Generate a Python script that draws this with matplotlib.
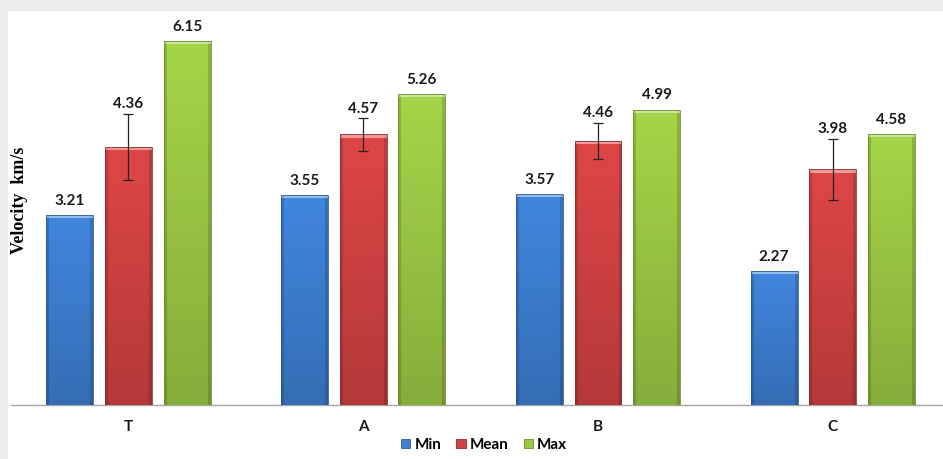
import numpy as np
import matplotlib
matplotlib.use("Agg")
import matplotlib.pyplot as plt
from matplotlib.patches import Rectangle, Patch
from matplotlib.colors import to_rgb

# Data
categories = ["T", "A", "B", "C"]
series = ["Min", "Mean", "Max"]
min_vals = [3.21, 3.55, 3.57, 2.27]
mean_vals = [4.36, 4.57, 4.46, 3.98]
max_vals = [6.15, 5.26, 4.99, 4.58]
mean_err = [0.56, 0.28, 0.31, 0.52]

colors = {"Min": "#3d7fd2", "Mean": "#d24242", "Max": "#9cc944"}

fig = plt.figure(figsize=(9.43, 4.59), dpi=100)
fig.patch.set_facecolor("#ececec")
# white chart panel
fig.add_artist(Rectangle((8 / 943, 0), 1, (459 - 11) / 459, transform=fig.transFigure,
                         facecolor="white", edgecolor="none", zorder=0))

ax = fig.add_axes([11 / 943, 54 / 459, 932 / 943, 394 / 459])
ax.set_facecolor("none")
ax.set_xlim(-0.5, -0.5 + 932 / 234.8)
ax.set_ylim(0, 394 / 59.2)

x = np.arange(len(categories))
width = 0.2
step = 0.25
values = [min_vals, mean_vals, max_vals]

px_per_unit_y = ax.transData.transform((0, 1))[1] - ax.transData.transform((0, 0))[1]
px_per_unit_x = ax.transData.transform((1, 0))[0] - ax.transData.transform((0, 0))[0]


def bevel_image(color, h_px, w_px):
    base = np.array(to_rgb(color))
    rows = max(int(h_px), 10)
    cols = max(int(w_px), 10)
    # vertical shading: lighter at top, darker at bottom
    t = np.linspace(0, 1, rows)[:, None]
    shade = 1.06 - 0.2 * t
    img = np.ones((rows, cols, 3)) * base * shade[..., None]
    # side bevels darker
    edge = 3
    img[:, :edge] *= 0.85
    img[:, -edge:] *= 0.85
    # top bevel lighter
    img[:edge + 1, :] = img[:edge + 1, :] * 0.55 + 0.45
    return np.clip(img, 0, 1)


label_font = {"fontsize": 11, "fontweight": "bold", "family": "Lato", "color": "#1a1a1a"}

for i, (name, vals) in enumerate(zip(series, values)):
    pos = x + (i - 1) * step
    bars = ax.bar(pos, vals, width, color=colors[name], edgecolor="none", zorder=2)
    for b in bars:
        bx, by = b.get_x(), b.get_y()
        bw, bh = b.get_width(), b.get_height()
        img = bevel_image(colors[name], bh * px_per_unit_y, bw * px_per_unit_x)
        im = ax.imshow(img, extent=(bx, bx + bw, by, by + bh), aspect="auto",
                       origin="upper", zorder=3, interpolation="bilinear")
        im.set_clip_path(b)
        dark = np.array(to_rgb(colors[name])) * 0.7
        ax.add_patch(Rectangle((bx, by), bw, bh, fill=False, edgecolor=dark,
                               linewidth=0.6, zorder=4))
    if name == "Mean":
        ax.errorbar(pos, vals, yerr=mean_err, fmt="none", ecolor="#222222",
                    elinewidth=0.9, capsize=3.5, capthick=0.9, zorder=6)
        for p, v, e in zip(pos, vals, mean_err):
            ax.text(p, v + e + 0.04, f"{v:.2f}", ha="center", va="bottom", zorder=7, **label_font)
    else:
        for p, v in zip(pos, vals):
            ax.text(p, v + 0.12, f"{v:.2f}", ha="center", va="bottom", zorder=7, **label_font)

ax.set_xticks(x)
ax.set_xticklabels(categories, fontsize=11, fontweight="bold", family="Lato", color="#1a1a1a")
ax.tick_params(axis="x", length=0, pad=11)
ax.set_yticks([])
for s in ["top", "right", "left"]:
    ax.spines[s].set_visible(False)
ax.spines["bottom"].set_color("#a6a6a6")
ax.spines["bottom"].set_linewidth(1.0)

fig.text(20 / 943, 1 - 200 / 459, "Velocity  km/s", rotation=90, ha="center", va="center",
         fontsize=13, fontweight="bold", family="Liberation Serif")

handles = [Patch(facecolor=colors[s], edgecolor=np.array(to_rgb(colors[s])) * 0.7, linewidth=0.6)
           for s in series]
leg = fig.legend(handles, series, loc="center", bbox_to_anchor=(484 / 943, 1 - 445 / 459),
                 ncol=3, frameon=False, handlelength=0.6, handleheight=0.6,
                 handletextpad=0.25, columnspacing=1.0,
                 prop={"family": "Lato", "weight": "bold", "size": 11})

fig.savefig("out.png", dpi=100, facecolor=fig.get_facecolor())
